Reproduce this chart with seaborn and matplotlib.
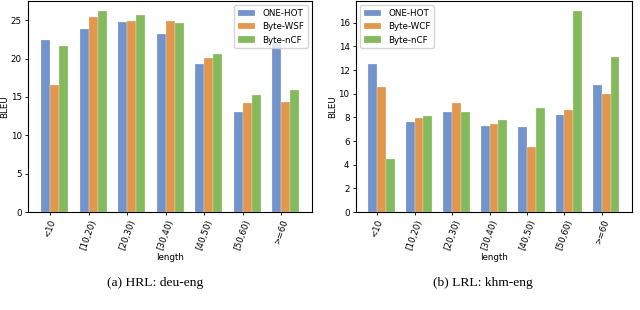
import numpy as np
import pandas as pd
import matplotlib
matplotlib.use("Agg")
import matplotlib.pyplot as plt
import seaborn as sns

# ===========================
# Data
# ===========================
lengths = ["<10", "[10,20)", "[20,30)", "[30,40)", "[40,50)", "[50,60)", ">=60"]

# (a) HRL: deu-eng
hrl_models = ["ONE-HOT", "Byte-WSF", "Byte-nCF"]
hrl_onehot = [22.4, 23.9, 24.8, 23.2, 19.3, 13.1, 22.0]
hrl_wsf = [16.5, 25.4, 24.9, 24.9, 20.1, 14.2, 14.4]
hrl_ncf = [21.7, 26.2, 25.7, 24.6, 20.6, 15.3, 15.9]

# (b) LRL: khm-eng
lrl_models = ["ONE-HOT", "Byte-WCF", "Byte-nCF"]
lrl_onehot = [12.5, 7.65, 8.45, 7.3, 7.2, 8.2, 10.7]
lrl_wcf = [10.6, 7.95, 9.25, 7.45, 5.5, 8.6, 10.0]
lrl_ncf = [4.45, 8.1, 8.45, 7.8, 8.8, 17.0, 13.1]

colors = ["#7293CB", "#E1974C", "#84BA5B"]
captions = ["(a) HRL: deu-eng", "(b) LRL: khm-eng"]


def to_long(models, series):
    rows = []
    for m, vals in zip(models, series):
        for l, v in zip(lengths, vals):
            rows.append({"length": l, "BLEU": v, "model": m})
    return pd.DataFrame(rows)


df_hrl = to_long(hrl_models, [hrl_onehot, hrl_wsf, hrl_ncf])
df_lrl = to_long(lrl_models, [lrl_onehot, lrl_wcf, lrl_ncf])

# ===========================
# Plot
# ===========================
fs = 6.3
fig = plt.figure(figsize=(6.4, 3.1), dpi=100)
ax1 = fig.add_axes([0.044, 0.316, 0.4435, 0.681])
ax2 = fig.add_axes([0.556, 0.316, 0.4315, 0.681])

width = 0.7
for ax, df, models, loc in [(ax1, df_hrl, hrl_models, "upper right"),
                            (ax2, df_lrl, lrl_models, "upper left")]:
    sns.barplot(data=df, x="length", y="BLEU", hue="model", hue_order=models,
                palette=colors, width=width, edgecolor="#f4f4f4", linewidth=0.2,
                saturation=1, ax=ax)
    ax.set_xticks(np.arange(len(lengths)) - width / 6)
    ax.set_xticklabels(lengths, rotation=70, fontsize=fs)
    ax.tick_params(axis="y", labelsize=fs, pad=2)
    ax.tick_params(axis="x", pad=2)
    ax.tick_params(length=2.5, width=0.6)
    ax.set_xlim(-0.685, 6.685)
    ax.set_xlabel("length", fontsize=fs, labelpad=1)
    ax.set_ylabel("BLEU", fontsize=fs, labelpad=1)
    for s in ax.spines.values():
        s.set_linewidth(0.8)
    handles, labels = ax.get_legend_handles_labels()
    ax.legend(handles, labels, loc=loc, fontsize=fs)

ax1.set_yticks([0, 5, 10, 15, 20, 25])
ax2.set_yticks([0, 2, 4, 6, 8, 10, 12, 14, 16])

fig.text(155 / 640, 1 - 283 / 310, captions[0], ha="center", va="center",
         fontsize=9.7, family="Liberation Serif")
fig.text(483 / 640, 1 - 283 / 310, captions[1], ha="center", va="center",
         fontsize=9.7, family="Liberation Serif")

fig.savefig("out.png", dpi=100)
